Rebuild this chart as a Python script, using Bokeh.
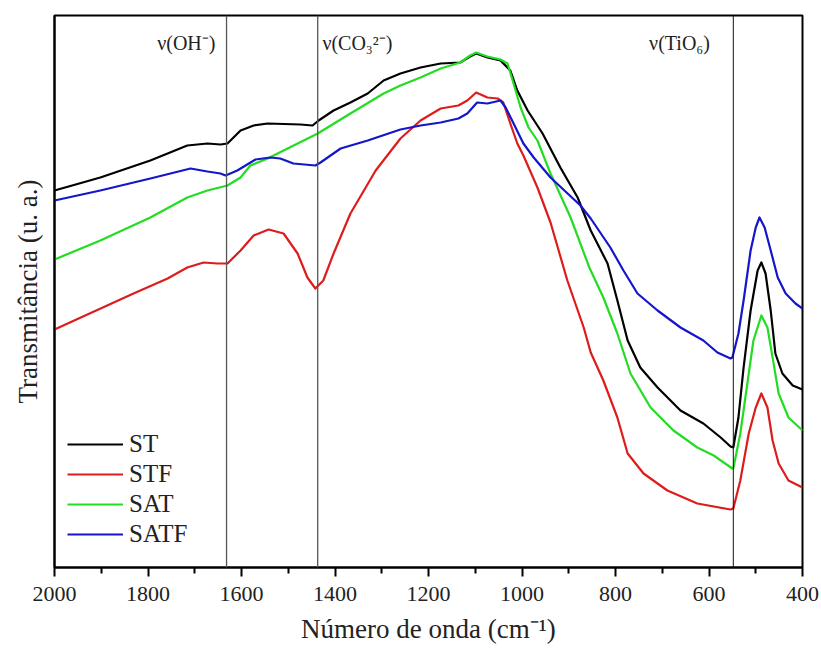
from bokeh.plotting import figure
from bokeh.models import Range1d, FixedTicker, Span, Label, Legend, LegendItem
from bokeh.embed import file_html
from bokeh.resources import INLINE

# ---- data (wavenumber cm^-1, transmittance arbitrary units) ----
st_wn = [2000,1902,1795,1716,1673,1645,1630,1602,1574,1544,1474,1448,1435,1403,1367,1330,1296,1260,1217,1174,1132,1111,1098,1074,1046,1025,1010,988,956,918,881,853,817,796,774,747,710,661,612,575,554,548,537,526,511,496,488,479,468,458,443,421,400]
st_t = [377,390,407,422,424,423,424,437,442,444,443,442,447,457,465,474,487,494,500,504,505,511,514,510,507,497,477,457,434,400,370,337,304,267,227,200,180,157,144,130,121,120,150,200,257,297,305,294,257,214,194,182,178]

stf_wn = [2000,1831,1758,1716,1681,1651,1630,1602,1574,1542,1510,1480,1459,1442,1425,1403,1367,1313,1260,1217,1174,1136,1117,1098,1074,1052,1040,1025,1010,997,967,939,903,868,853,826,796,774,740,689,625,554,548,533,515,500,488,475,464,451,430,400]
stf_t = [238,274,289,300,305,304,304,317,332,338,334,314,290,279,287,314,354,397,429,447,459,462,467,475,470,469,465,444,424,412,380,345,287,240,215,187,150,114,94,77,64,58,59,87,134,160,174,160,127,104,87,80]

sat_wn = [2000,1902,1795,1716,1673,1630,1602,1581,1544,1510,1437,1367,1296,1260,1217,1174,1132,1111,1098,1074,1046,1031,1020,1003,986,967,939,896,856,826,796,768,725,676,625,590,550,548,533,518,505,488,475,464,451,430,400]
sat_t = [308,327,350,370,377,382,390,402,409,417,434,454,474,482,490,499,505,512,515,511,508,504,487,460,440,427,394,350,300,270,234,194,160,137,120,112,99,99,134,184,227,252,240,210,174,150,137]

satf_wn = [2000,1902,1795,1709,1673,1645,1634,1609,1570,1538,1517,1489,1442,1431,1388,1330,1260,1217,1174,1136,1117,1096,1074,1046,1035,1018,997,975,939,875,853,811,783,753,710,661,612,582,554,550,537,526,511,500,492,481,468,453,436,415,400]
satf_t = [367,377,389,399,396,394,392,397,408,410,409,404,402,405,419,427,438,442,445,449,454,465,464,467,460,444,424,410,390,362,349,320,297,274,257,240,227,215,209,210,234,267,317,340,350,340,317,290,274,264,259]

series_names = ["ST", "STF", "SAT", "SATF"]
series_colors = ["#000000", "#dd1c1c", "#22dd22", "#1515cc"]

band_positions = [1632, 1437, 548]
band_labels = ["ν(OH⁻)", "ν(CO₃²⁻)", "ν(TiO₆)"]
band_label_x = [1718, 1352, 663]

major_ticks = [2000, 1800, 1600, 1400, 1200, 1000, 800, 600, 400]
minor_ticks = [1900, 1700, 1500, 1300, 1100, 900, 700, 500]

FONT = "Liberation Serif"

p = figure(width=821, height=659, output_backend="svg", toolbar_location=None,
           x_range=Range1d(2000, 400), y_range=Range1d(0, 552),
           min_border_left=54, min_border_right=19, min_border_top=15, min_border_bottom=92)
p.grid.visible = False
p.background_fill_color = "white"
p.border_fill_color = "white"
p.outline_line_color = "black"
p.outline_line_width = 2

# x axis
xa = p.xaxis[0]
xa.ticker = FixedTicker(ticks=major_ticks, minor_ticks=minor_ticks)
xa.axis_line_width = 2
xa.major_tick_line_width = 2
xa.minor_tick_line_width = 2
xa.major_tick_in = 0
xa.major_tick_out = 9
xa.minor_tick_in = 0
xa.minor_tick_out = 6
xa.major_label_text_font = FONT
xa.major_label_text_font_size = "22px"
xa.major_label_text_color = "#222222"
xa.major_label_standoff = 10
xa.axis_label = "Número de onda (cm⁻¹)"
xa.axis_label_text_font = FONT
xa.axis_label_text_font_size = "27px"
xa.axis_label_text_font_style = "normal"
xa.axis_label_text_color = "#222222"
xa.axis_label_standoff = 10

# y axis (no ticks)
ya = p.yaxis[0]
ya.ticker = FixedTicker(ticks=[])
ya.axis_line_width = 2
ya.major_tick_line_color = None
ya.minor_tick_line_color = None
ya.major_label_text_font_size = "0px"
ya.axis_label = "Transmitância (u. a.)"
ya.axis_label_text_font = FONT
ya.axis_label_text_font_size = "27px"
ya.axis_label_text_font_style = "normal"
ya.axis_label_text_color = "#222222"
ya.axis_label_standoff = 12

# band markers
for pos, lab, lx in zip(band_positions, band_labels, band_label_x):
    p.add_layout(Span(location=pos, dimension="height",
                      line_color="#555555" if pos > 1000 else "#111111",
                      line_width=1.3 if pos > 1000 else 1))
    p.add_layout(Label(x=lx, y=525, text=lab, text_font=FONT, text_font_size="20px",
                       text_align="center", text_baseline="middle", text_color="#222222"))

xs = [st_wn, stf_wn, sat_wn, satf_wn]
ys = [st_t, stf_t, sat_t, satf_t]
items = []
for x, y, name, col in zip(xs, ys, series_names, series_colors):
    r = p.line(x, y, line_color=col, line_width=2.2, line_join="round")
    items.append(LegendItem(label=name, renderers=[r]))

legend = Legend(items=items, location=(13, 18), border_line_color=None,
                background_fill_alpha=0, padding=0, margin=0, spacing=0,
                glyph_width=56, glyph_height=30, label_height=30,
                label_standoff=6, label_text_font=FONT, label_text_font_size="25px",
                label_text_color="#222222")
p.add_layout(legend)

open("out.html", "w").write(file_html(p, INLINE))
